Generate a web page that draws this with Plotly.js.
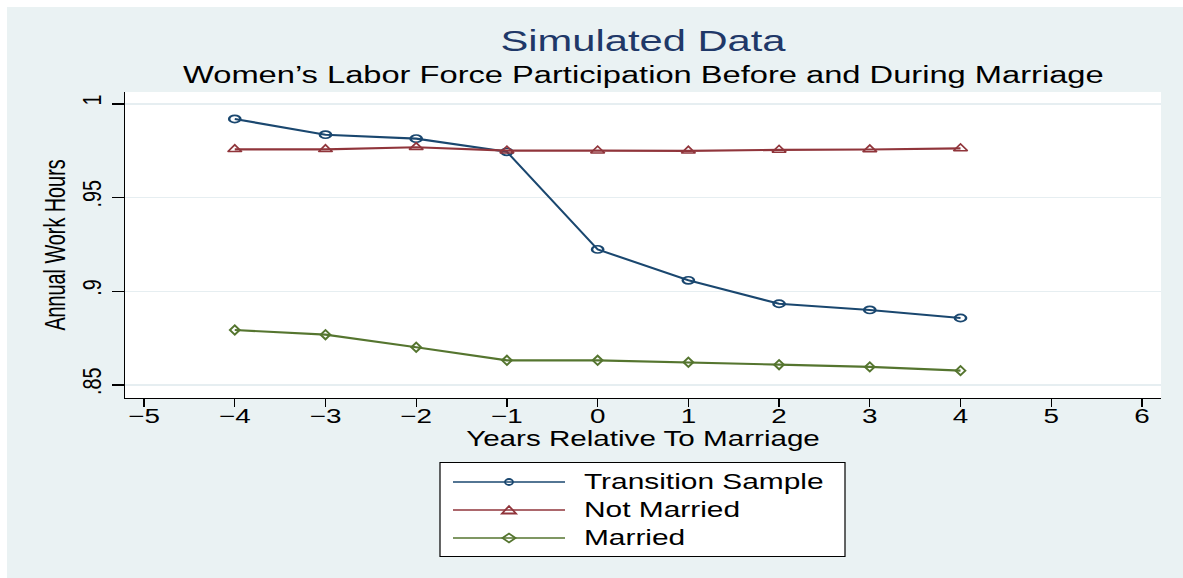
<!DOCTYPE html>
<html><head><meta charset="utf-8">
<script src="https://cdn.plot.ly/plotly-3.0.1.min.js"></script>
<style>html,body{margin:0;padding:0;background:#fff;}</style>
</head><body>
<div id="chart" style="width:1183px;height:578px"></div>
<script>
// ---- data ----
const years = [-4, -3, -2, -1, 0, 1, 2, 3, 4];
const transitionSample = [0.9920, 0.9836, 0.9815, 0.9745, 0.9224, 0.9059, 0.8934, 0.8901, 0.8858];
const notMarried = [0.9758, 0.9758, 0.9769, 0.9751, 0.9751, 0.9750, 0.9755, 0.9757, 0.9763];
const married = [0.8794, 0.8769, 0.8702, 0.8632, 0.8632, 0.8622, 0.8609, 0.8597, 0.8577];
const seriesNames = ['Transition Sample', 'Not Married', 'Married'];
const xTickVals = [-5, -4, -3, -2, -1, 0, 1, 2, 3, 4, 5, 6];
const yTickVals = [0.85, 0.9, 0.95, 1];
const yTickLabels = ['.85', '.9', '.95', '1'];

// ---- styles ----
const colors = ['#1a476f', '#90353b', '#55752f'];
const symbols = ['circle-open', 'triangle-up-open', 'diamond-open'];
const sizes = [9, 12, 7.5];
const FONT = 'Liberation Sans, Arial, Helvetica, sans-serif';
const SX = 1.39;

const WIDTH = 1183, HEIGHT = 578;
const L = 125, R = 22, T = 92, B = 180;
const PW = WIDTH - L - R, PH = HEIGHT - T - B;
const px = v => (v - L) / PW;
const py = v => (T + PH - v) / PH;

const allY = [transitionSample, notMarried, married];
const traces = allY.map((ys, i) => ({
  type: 'scatter', mode: 'lines+markers', x: years, y: ys, name: seriesNames[i],
  showlegend: false,
  line: {color: colors[i], width: 2.1},
  marker: {symbol: symbols[i], size: sizes[i], color: colors[i], line: {width: 2, color: colors[i]}}
}));

// legend (drawn manually)
const legRows = [482, 510, 538];
const shapes = [
  {type: 'rect', xref: 'paper', yref: 'paper', x0: px(0), x1: px(WIDTH), y0: py(7), y1: py(0), fillcolor: '#ffffff', line: {width: 0}},
  {type: 'rect', xref: 'paper', yref: 'paper', x0: px(0), x1: px(7), y0: py(HEIGHT), y1: py(0), fillcolor: '#ffffff', line: {width: 0}},
  {type: 'rect', xref: 'paper', yref: 'paper', x0: px(440), x1: px(845), y0: py(556.5), y1: py(462.5), fillcolor: '#ffffff', line: {color: '#000000', width: 1.2}}
];
const annotations = [
  {text: 'Women\u2019s Labor Force Participation Before and During Marriage', xref: 'paper', yref: 'paper',
   x: 0.5, y: py(74.7), xanchor: 'center', yanchor: 'middle', showarrow: false,
   font: {family: FONT, size: 23.5, color: '#000000'}}
];
const markerPaths = [null, 'M-7,-3.5 L7,-3.5 L0,4 Z', 'M-6.5,0 L0,4.5 L6.5,0 L0,-4.5 Z'];
legRows.forEach((ry, i) => {
  shapes.push({type: 'line', xref: 'paper', yref: 'paper', x0: px(453), x1: px(565), y0: py(ry), y1: py(ry), line: {color: colors[i], width: 1.6}});
  if (i === 0) {
    shapes.push({type: 'circle', xref: 'paper', yref: 'paper', xsizemode: 'pixel', ysizemode: 'pixel',
      xanchor: px(509), yanchor: py(ry), x0: -4, x1: 4, y0: -3, y1: 3, line: {color: colors[i], width: 1.8}, fillcolor: 'rgba(0,0,0,0)'});
  } else {
    shapes.push({type: 'path', xref: 'paper', yref: 'paper', xsizemode: 'pixel', ysizemode: 'pixel',
      xanchor: px(509), yanchor: py(ry), path: markerPaths[i], line: {color: colors[i], width: 1.8}, fillcolor: 'rgba(0,0,0,0)'});
  }
  annotations.push({text: seriesNames[i], xref: 'paper', yref: 'paper', x: px(582), y: py(ry),
    xanchor: 'left', yanchor: 'middle', align: 'left', showarrow: false,
    font: {family: FONT, size: 21.5, color: '#000000'}});
});

const layout = {
  width: WIDTH, height: HEIGHT,
  margin: {l: L, r: R, t: T, b: B, pad: 0},
  paper_bgcolor: '#eaf2f3', plot_bgcolor: '#ffffff',
  showlegend: false,
  font: {family: FONT, color: '#000000'},
  title: {text: 'Simulated Data', xref: 'paper', x: 0.5, xanchor: 'center', yref: 'container', y: 1 - 41 / HEIGHT, yanchor: 'middle',
          font: {family: FONT, size: 30, color: '#1f3868'}},
  xaxis: {
    range: [-5.21, 6.21], tickmode: 'array', tickvals: xTickVals,
    ticks: 'outside', ticklen: 8, tickwidth: 1.3, tickcolor: '#000000', ticklabelstandoff: -8,
    showline: true, linecolor: '#000000', linewidth: 1.3, showgrid: false, zeroline: false,
    tickfont: {family: FONT, size: 20, color: '#000000'},
    title: {text: 'Years Relative To Marriage', font: {family: FONT, size: 21.3, color: '#000000'}, standoff: 0}
  },
  yaxis: {
    range: [0.8431, 1.0064], tickmode: 'array', tickvals: yTickVals, ticktext: yTickLabels, tickangle: -90,
    ticks: 'outside', ticklen: 12, tickwidth: 1.3, tickcolor: '#000000',
    showline: true, linecolor: '#000000', linewidth: 1.3, showgrid: true, gridcolor: '#e6eef1', gridwidth: 1.5, zeroline: false,
    tickfont: {family: FONT, size: 26, color: '#000000'},
    title: {text: 'Annual Work Hours', font: {family: FONT, size: 30, color: '#000000'}, standoff: 2}
  },
  shapes: shapes, annotations: annotations
};

function stretch(el, sx, sy) {
  const cur = el.getAttribute('transform') || '';
  if (cur.indexOf('scale(') >= 0) return;
  const x = parseFloat(el.getAttribute('x')) || 0;
  const y = parseFloat(el.getAttribute('y')) || 0;
  el.setAttribute('transform', cur + ' translate(' + x + ',' + y + ') scale(' + sx + ',' + sy + ') translate(' + (-x) + ',' + (-y) + ')');
}
function fixup() {
  const gd = document.getElementById('chart');
  gd.querySelectorAll('text.gtitle, text.xtitle, .xtick text, text.annotation-text').forEach(el => stretch(el, SX, 1));
  gd.querySelectorAll('text.ytitle').forEach(el => stretch(el, 0.66, 1));
  gd.querySelectorAll('.ytick text').forEach(el => stretch(el, 0.76, 1));
  const markerScale = [[1.25, 0.8], [1.0, 0.75], [1.0, 0.95]];
  gd.querySelectorAll('.scatterlayer .trace').forEach((tr, i) => {
    tr.querySelectorAll('path.point').forEach(p => {
      const cur = p.getAttribute('transform') || '';
      if (cur.indexOf('scale(') < 0) p.setAttribute('transform', cur + ' scale(' + markerScale[i][0] + ',' + markerScale[i][1] + ')');
    });
  });
}
Plotly.newPlot('chart', traces, layout, {staticPlot: true, displayModeBar: false}).then(fixup);
</script>
</body></html>
